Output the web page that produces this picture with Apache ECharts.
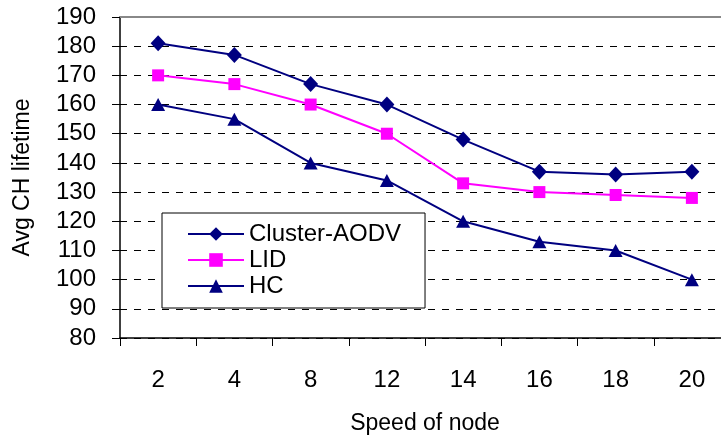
<!DOCTYPE html>
<html>
<head>
<meta charset="utf-8">
<script src="https://cdn.jsdelivr.net/npm/echarts@6/dist/echarts.min.js"></script>
<style>
  html, body { margin: 0; padding: 0; background: #fff; }
  #chart { width: 721px; height: 441px; }
</style>
</head>
<body>
<div id="chart"></div>
<script>
var speeds = ['2', '4', '8', '12', '14', '16', '18', '20'];
var clusterAodv = [181, 177, 167, 160, 148, 137, 136, 137];
var lid = [170, 167, 160, 150, 133, 130, 129, 128];
var hc = [160, 155, 140, 134, 120, 113, 110, 100];

var chart = echarts.init(document.getElementById('chart'));
var font = 'Liberation Sans, Arial, sans-serif';

var option = {
    animation: false,
    grid: { left: 120, top: 17, width: 610, height: 321, outerBoundsMode: 'none' },
    legend: {
        left: 162, top: 213,
        orient: 'vertical',
        padding: [8, 24, 9, 25],
        itemGap: 0,
        itemWidth: 56, itemHeight: 17,
        backgroundColor: '#fff',
        borderColor: '#000', borderWidth: 1,
        textStyle: { fontFamily: font, fontSize: 24, color: '#000', lineHeight: 26 },
        data: ['Cluster-AODV', 'LID', 'HC']
    },
    xAxis: [{
        type: 'category',
        data: speeds,
        boundaryGap: true,
        name: 'Speed of node',
        nameLocation: 'middle',
        nameGap: 74,
        nameTextStyle: { fontFamily: font, fontSize: 23, color: '#000' },
        axisLine: { lineStyle: { color: '#000', width: 1.5 } },
        axisTick: { show: true, length: 8, inside: false, lineStyle: { color: '#000' } },
        axisLabel: { fontFamily: font, fontSize: 24, color: '#000', margin: 30 }
    }, {
        type: 'category',
        data: speeds,
        position: 'top',
        axisLine: { lineStyle: { color: '#888', width: 2 } },
        axisTick: { show: false },
        axisLabel: { show: false }
    }],
    yAxis: {
        type: 'value',
        min: 80, max: 190, interval: 10,
        name: 'Avg CH lifetime',
        nameLocation: 'middle',
        nameGap: 86,
        nameTextStyle: { fontFamily: font, fontSize: 23, color: '#000' },
        axisLine: { show: true, lineStyle: { color: '#000', width: 1.5 } },
        axisTick: { show: true, length: 8, lineStyle: { color: '#000' } },
        axisLabel: { fontFamily: font, fontSize: 24, color: '#000', margin: 24 },
        splitLine: { show: true, lineStyle: { color: '#000', type: [7, 7], width: 1 } }
    },
    series: [{
        name: 'Cluster-AODV', type: 'line', data: clusterAodv,
        symbol: 'diamond', symbolSize: [15, 16],
        itemStyle: { color: '#000080' },
        lineStyle: { color: '#000080', width: 2 }
    }, {
        name: 'LID', type: 'line', data: lid,
        symbol: 'rect', symbolSize: 12,
        itemStyle: { color: '#ff00ff' },
        lineStyle: { color: '#ff00ff', width: 2 }
    }, {
        name: 'HC', type: 'line', data: hc,
        symbol: 'triangle', symbolSize: [14, 13],
        itemStyle: { color: '#000080' },
        lineStyle: { color: '#000080', width: 2 }
    }]
};
chart.setOption(option);
</script>
</body>
</html>
